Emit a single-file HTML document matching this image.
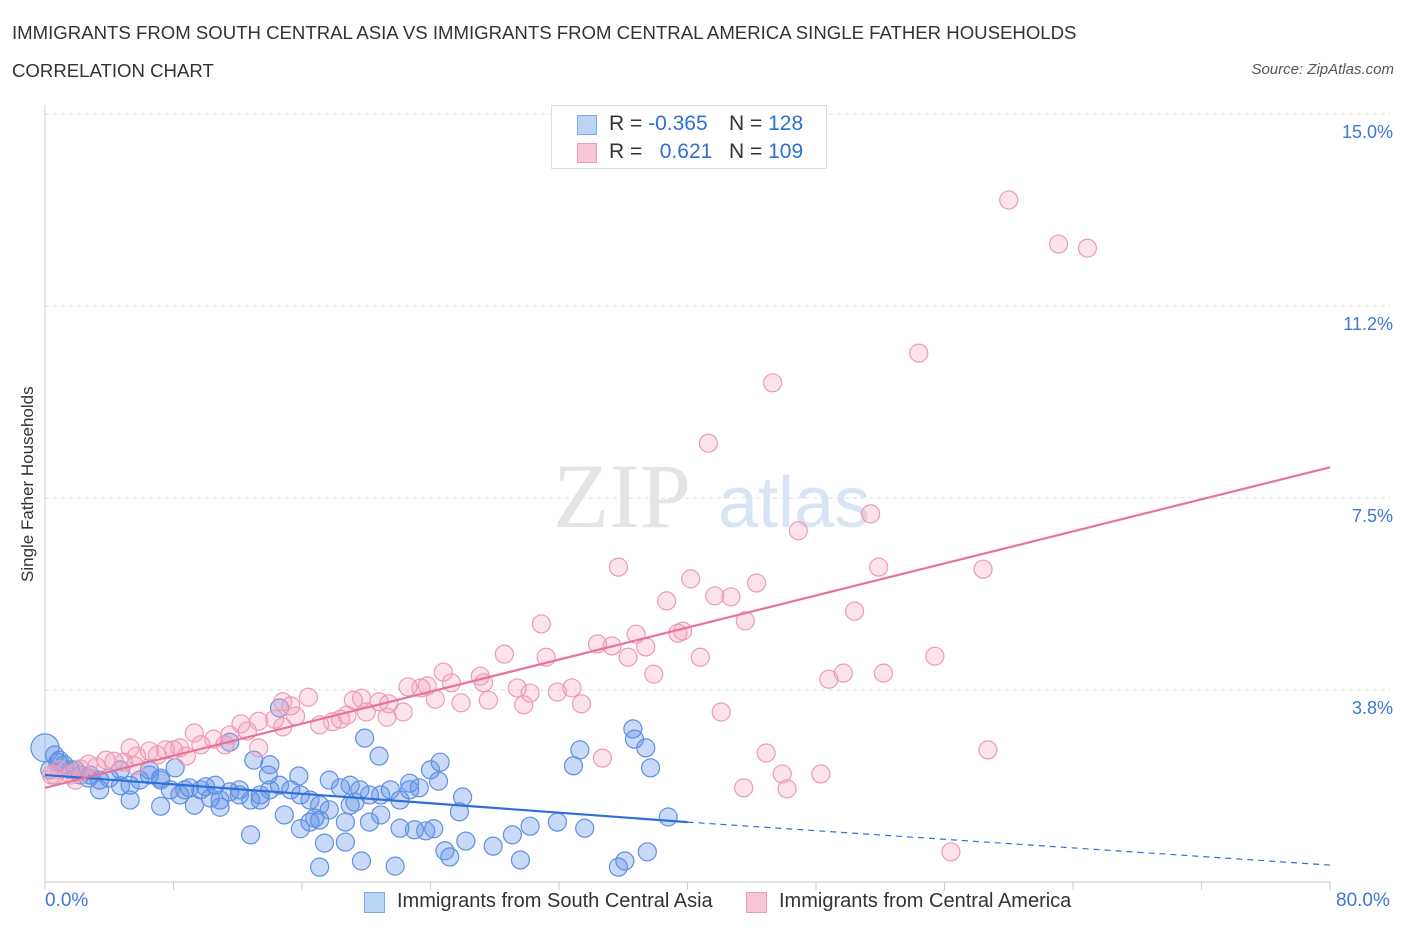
<!DOCTYPE html>
<html><head><meta charset="utf-8"><style>
body{margin:0;background:#fff;font-family:"Liberation Sans",sans-serif;}
#wrap{position:relative;width:1406px;height:930px;overflow:hidden}
.t{position:absolute;white-space:nowrap}
</style></head><body>
<div id="wrap">
<div class="t" style="left:12px;top:22px;font-size:18.6px;color:#333">IMMIGRANTS FROM SOUTH CENTRAL ASIA VS IMMIGRANTS FROM CENTRAL AMERICA SINGLE FATHER HOUSEHOLDS</div>
<div class="t" style="left:12px;top:60px;font-size:18.6px;color:#333">CORRELATION CHART</div>
<div class="t" style="right:12px;top:61px;font-size:15px;color:#555;font-style:italic">Source: ZipAtlas.com</div>
<svg id="plot" width="1406" height="930" style="position:absolute;left:0;top:0"></svg>
</div>
<script>
const blueX=[0,0.6,0.9,0.3,1.6,2.2,2.8,3.4,4.0,4.7,5.3,5.9,6.5,7.2,7.8,8.4,9.0,9.7,10.3,10.9,11.5,12.1,12.8,13.4,14.0,14.6,15.3,15.9,16.5,17.1,17.7,18.4,19.0,19.6,20.2,20.9,21.5,22.1,22.7,23.3,5.3,7.2,9.3,10.9,12.8,14.9,15.9,16.8,17.7,19.0,14.6,11.5,13.0,14.0,15.8,13.9,19.9,20.8,22.7,24.0,24.6,24.5,26.0,25.8,24.2,23.0,23.7,22.1,20.9,20.2,19.3,18.7,16.5,17.1,17.4,18.7,19.7,21.8,17.1,24.9,25.2,26.2,27.9,29.1,29.6,30.2,31.9,33.6,32.9,33.3,36.6,36.7,37.4,37.7,38.8,37.5,35.7,36.1,6.5,7.2,8.1,8.7,10.0,10.6,12.1,13.4,4.7,3.4,2.7,1.9,1.2,0.8];
const blueY=[2.62,2.48,2.38,2.19,2.19,2.09,2.09,1.99,2.03,2.19,1.89,1.99,2.09,1.99,1.80,1.70,1.84,1.80,1.64,1.60,1.76,1.70,1.60,1.70,1.80,1.89,1.80,1.70,1.60,1.50,1.99,1.84,1.89,1.80,1.70,1.70,1.80,1.60,1.80,1.84,1.60,1.48,1.50,1.46,0.92,1.31,1.04,1.25,1.41,1.50,3.40,2.73,2.38,2.29,2.07,2.09,2.81,2.46,1.93,2.19,2.34,1.97,1.66,1.37,1.04,1.02,1.00,1.05,1.31,1.17,1.56,1.17,1.17,1.21,0.76,0.78,0.41,0.31,0.29,0.61,0.49,0.80,0.70,0.92,0.43,1.09,1.17,1.05,2.27,2.58,2.99,2.79,2.62,2.23,1.27,0.59,0.29,0.41,2.19,2.03,2.23,1.80,1.86,1.89,1.80,1.60,1.88,1.80,2.03,2.19,2.29,2.34];
const pinkX=[60.0,63.1,64.9,54.4,45.3,41.3,51.4,46.9,35.7,51.9,58.4,40.2,44.3,41.7,42.7,38.7,50.4,43.6,30.9,36.8,39.7,39.4,34.4,35.3,37.4,36.3,40.8,28.6,31.2,55.4,52.2,49.7,48.8,37.9,24.8,27.1,23.8,25.3,23.4,22.6,29.4,31.9,32.8,30.2,27.3,24.3,25.9,27.6,29.8,33.4,20.8,19.7,19.2,22.3,21.4,21.3,20.0,18.8,18.4,17.9,17.1,16.4,15.6,14.8,15.3,14.3,14.8,13.3,12.6,12.2,11.5,10.5,11.2,9.7,9.3,8.4,8.0,7.5,7.0,6.5,5.7,5.3,4.9,4.3,3.8,3.2,2.7,2.2,1.6,0.9,0.4,42.1,44.9,58.7,45.9,48.3,43.5,46.2,34.7,56.4,13.3,8.8,5.6,1.9,0.6];
const pinkY=[13.32,12.46,12.38,10.33,9.75,8.57,7.19,6.86,6.15,6.15,6.11,5.92,5.84,5.59,5.57,5.49,5.29,5.10,5.04,4.84,4.90,4.86,4.65,4.61,4.59,4.39,4.39,4.45,4.39,4.41,4.08,4.08,3.96,4.06,4.10,4.02,3.83,3.89,3.79,3.81,3.79,3.71,3.79,3.69,3.89,3.57,3.50,3.55,3.46,3.48,3.52,3.59,3.55,3.32,3.48,3.22,3.32,3.26,3.18,3.13,3.07,3.61,3.24,3.52,3.44,3.18,3.03,3.14,2.95,3.09,2.87,2.79,2.68,2.68,2.91,2.62,2.58,2.58,2.48,2.56,2.46,2.62,2.34,2.36,2.38,2.25,2.30,2.21,2.09,2.19,2.09,3.32,2.52,2.58,2.11,2.11,1.84,1.82,2.42,0.59,2.62,2.46,2.27,1.99,2.09];
const blueTrendX=[0,40,80];
const blueTrendY=[2.09,1.17,0.33];
const pinkTrendX=[0,80];
const pinkTrendY=[1.84,8.1];
const yTicks=[3.8,7.5,11.2,15.0];
const yTickVals=[3.75,7.5,11.25,15];
const xTicks=[0,8,16,24,32,40,48,56,64,72,80];

const X0=45,X1=1330,Y0=882,PY=51.2;
const sx=v=>X0+(X1-X0)*v/80;
const sy=v=>Y0-PY*v;
const svg=document.getElementById('plot');
const NS='http://www.w3.org/2000/svg';
function mk(tag,attrs){const e=document.createElementNS(NS,tag);for(const k in attrs)e.setAttribute(k,attrs[k]);svg.appendChild(e);return e;}

yTickVals.forEach((v,i)=>{
 const g=mk('line',{x1:X0,x2:1390,y1:sy(v),y2:sy(v),stroke:'#ddd','stroke-dasharray':'4,4'});
 
 
 const t=mk('text',{x:1393,y:sy(v)+24,'text-anchor':'end','font-size':'18','fill':'#3b78d8','font-family':'Liberation Sans,sans-serif'});
 t.textContent=yTicks[i].toFixed(1)+'%';
 
 
});
const ax=mk('line',{x1:X0,x2:X0,y1:105,y2:Y0,stroke:'#ccc'});


const bx=mk('line',{x1:X0,x2:X1,y1:Y0,y2:Y0,stroke:'#ccc'});


xTicks.forEach(v=>{
 const l=mk('line',{x1:sx(v),x2:sx(v),y1:Y0,y2:Y0+8,stroke:'#ccc'});
 
 
});
const w1=mk('text',{x:553,y:527,'font-size':'92','font-family':'Liberation Serif,serif',fill:'#e4e4e4'});
w1.textContent='ZIP';


const w2=mk('text',{x:718,y:527,'font-size':'72','font-family':'Liberation Sans,sans-serif',fill:'#d8e4f4'});
w2.textContent='atlas';



blueX.forEach((v,i)=>{
 const c=mk('circle',{cx:sx(v),cy:sy(blueY[i]),r:i===0?14:9,fill:'rgba(100,150,235,0.35)',stroke:'#5f8fe0','stroke-width':1.2});
 
 
});
pinkX.forEach((v,i)=>{
 const c=mk('circle',{cx:sx(v),cy:sy(pinkY[i]),r:9,fill:'rgba(245,160,190,0.3)',stroke:'#eb9bb5','stroke-width':1.2});
 
 
});
const bl=mk('line',{x1:sx(blueTrendX[0]),y1:sy(blueTrendY[0]),x2:sx(blueTrendX[1]),y2:sy(blueTrendY[1]),stroke:'#2f6fd6','stroke-width':2.2});


const bd=mk('line',{x1:sx(blueTrendX[1]),y1:sy(blueTrendY[1]),x2:sx(blueTrendX[2]),y2:sy(blueTrendY[2]),stroke:'#2f6fd6','stroke-width':1.2,'stroke-dasharray':'6,5'});


const pl=mk('line',{x1:sx(pinkTrendX[0]),y1:sy(pinkTrendY[0]),x2:sx(pinkTrendX[1]),y2:sy(pinkTrendY[1]),stroke:'#e8739a','stroke-width':2.2});


</script>
<div class="t" style="left:-62px;top:482px;font-size:17px;color:#333;transform:rotate(-90deg);width:180px;text-align:center">Single Father Households</div>
<div class="t" style="left:45px;top:890px;font-size:19px;color:#3b78d8">0.0%</div>
<div class="t" style="left:1336px;top:890px;font-size:19px;color:#3b78d8">80.0%</div>
<div style="position:absolute;left:551px;top:105px;width:274px;height:62px;border:1px solid #ddd;background:#fff;font-size:21px;color:#333">
 <div style="position:absolute;left:25px;top:9px;width:18px;height:18px;background:#b9d3f5;border:1px solid #7fa8e6"></div>
 <div class="t" style="left:57px;top:6px">R = <span style="color:#2f6fd6">-0.365</span></div>
 <div class="t" style="left:177px;top:6px">N = <span style="color:#2f6fd6">128</span></div>
 <div style="position:absolute;left:25px;top:37px;width:18px;height:18px;background:#f8c6d6;border:1px solid #eb9bb5"></div>
 <div class="t" style="left:57px;top:34px">R = <span style="color:#2f6fd6">&nbsp;&nbsp;0.621</span></div>
 <div class="t" style="left:177px;top:34px">N = <span style="color:#2f6fd6">109</span></div>
</div>
<div style="position:absolute;left:364px;top:890px;font-size:20px;color:#333">
 <div style="position:absolute;left:0;top:2px;width:19px;height:19px;background:#b9d3f5;border:1px solid #7fa8e6"></div>
 <div class="t" style="left:33px;top:0">Immigrants from South Central Asia</div>
</div>
<div style="position:absolute;left:746px;top:890px;font-size:20px;color:#333">
 <div style="position:absolute;left:0;top:2px;width:19px;height:19px;background:#f8c6d6;border:1px solid #eb9bb5"></div>
 <div class="t" style="left:33px;top:0">Immigrants from Central America</div>
</div>
</body></html>
